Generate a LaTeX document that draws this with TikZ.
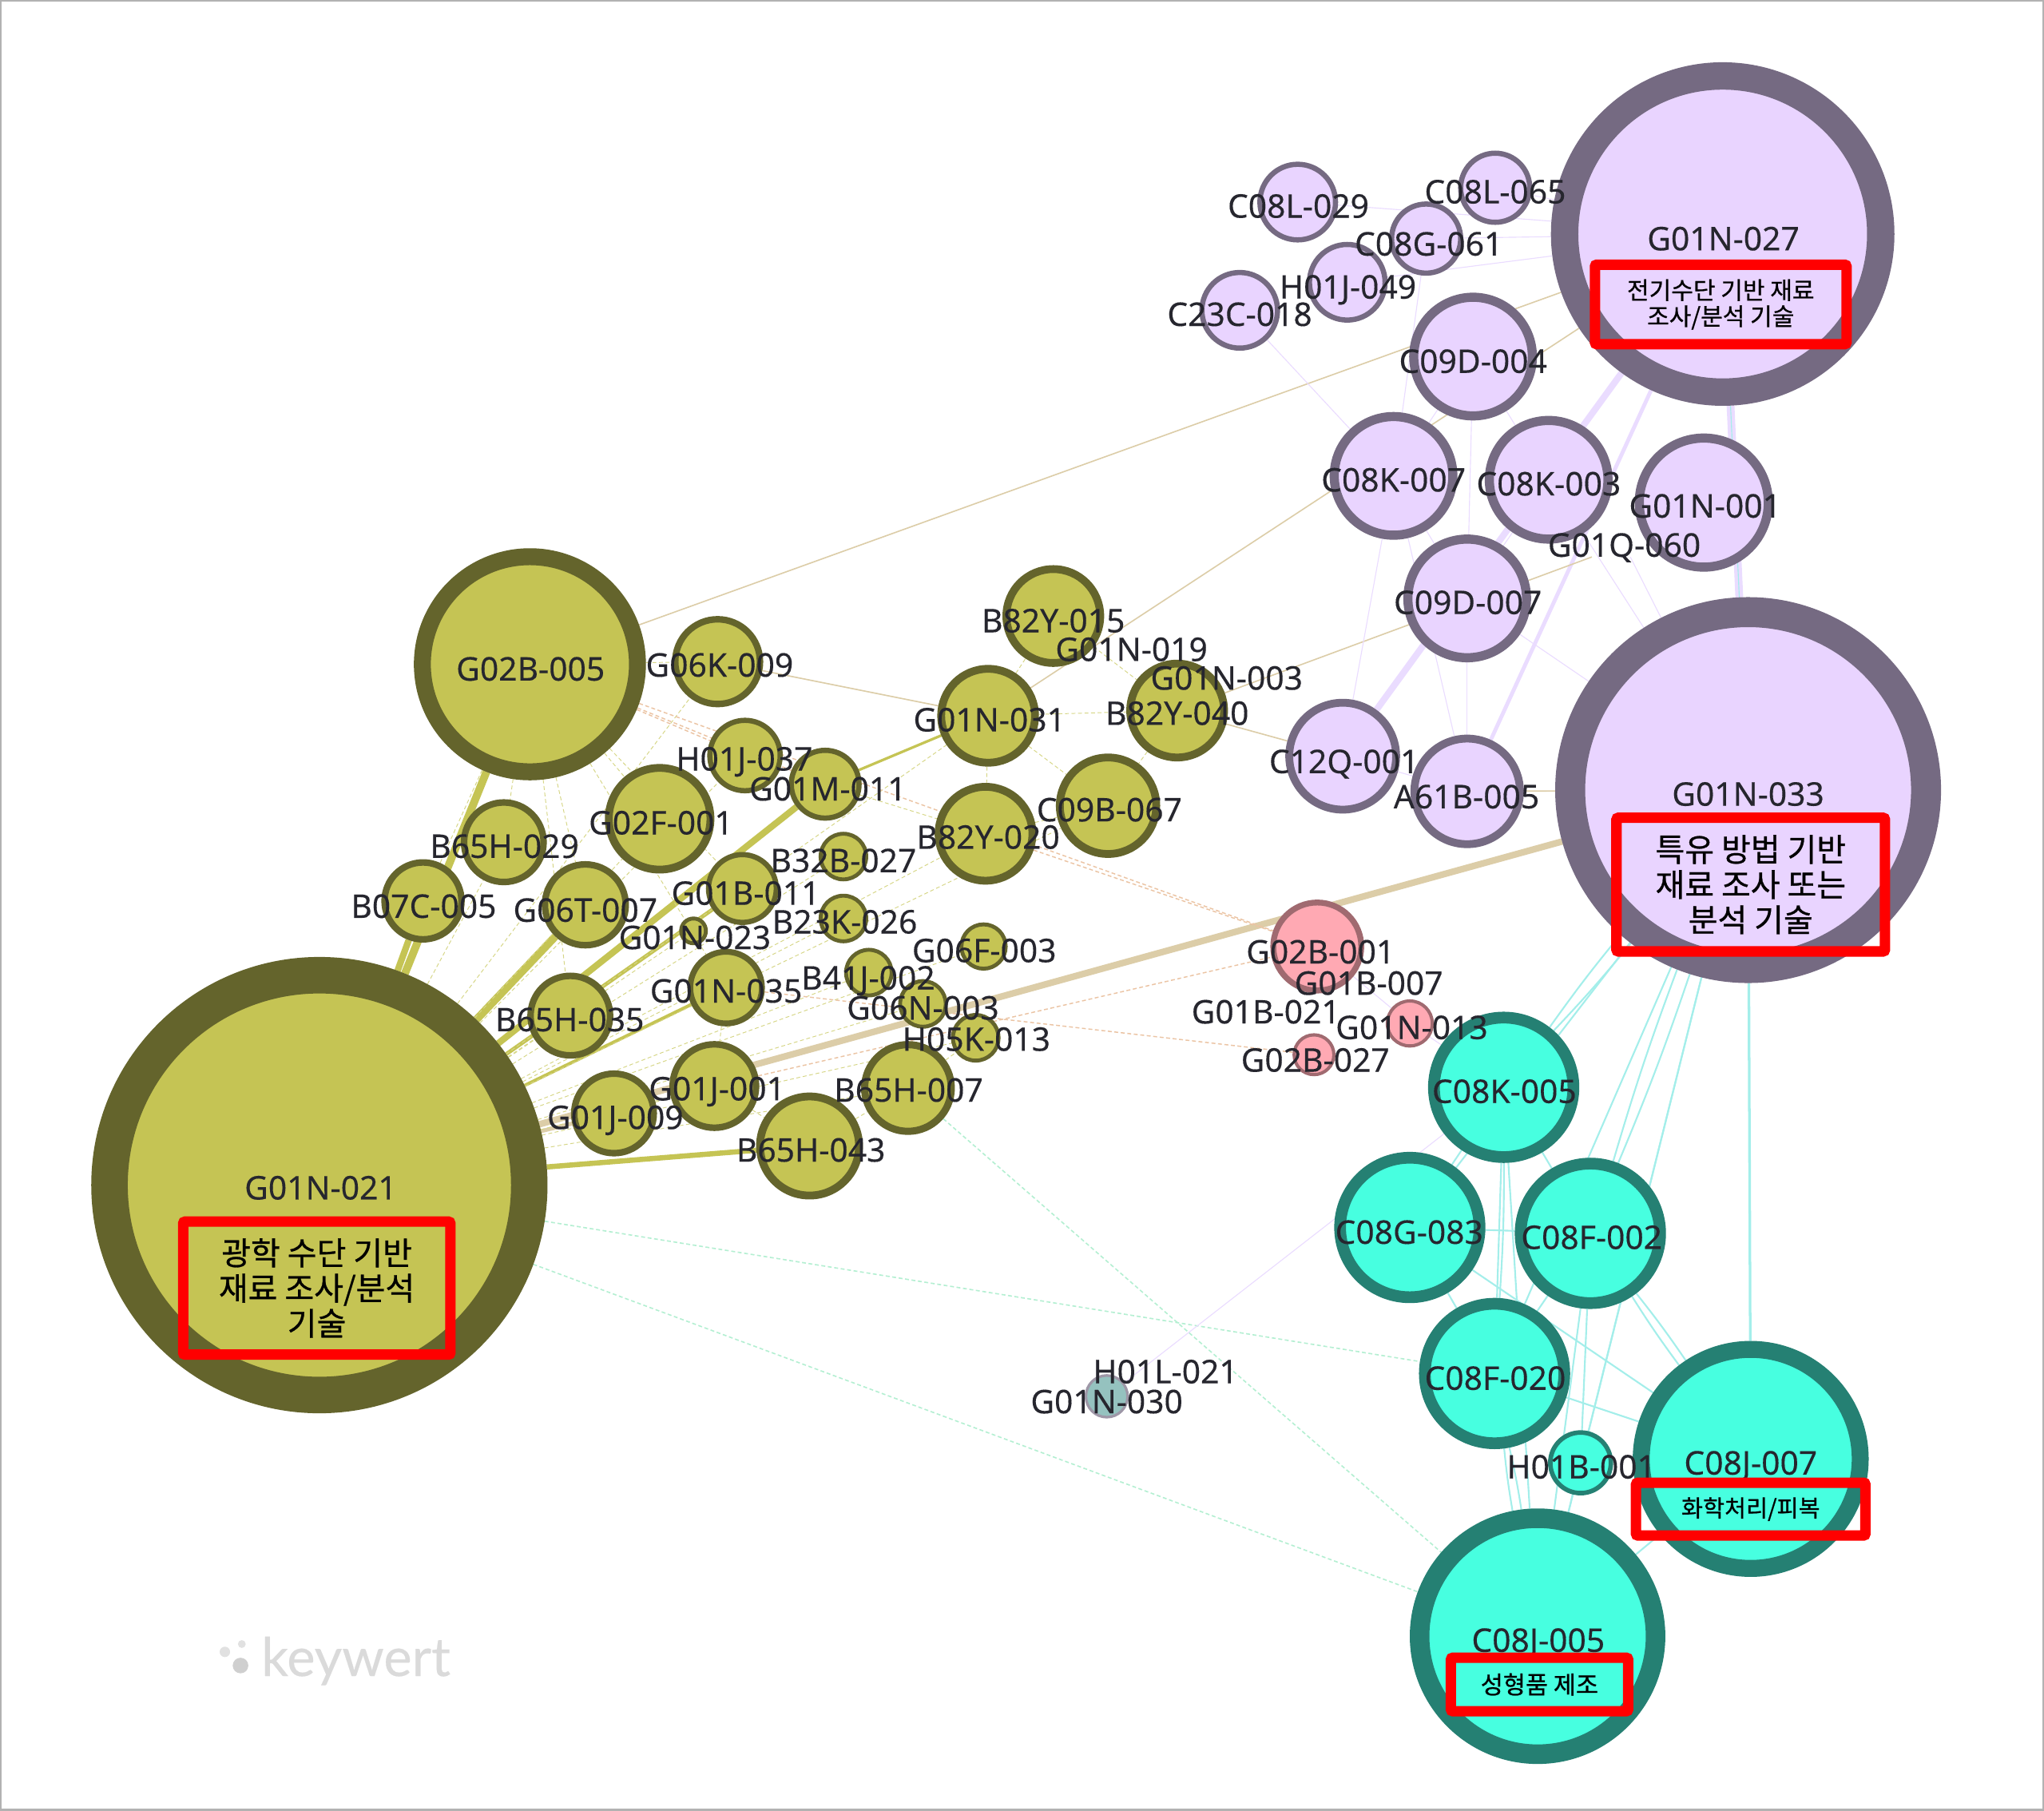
\documentclass[tikz,border=0pt]{standalone}
\usepackage{fontspec}
\setmainfont{Noto Sans}
\newfontfamily\labfont[FakeBold=0.25]{Noto Sans}
\newfontfamily\krfont[FakeBold=0.7]{Noto Sans CJK KR}
\newfontfamily\logofont[FakeBold=0.3]{Lato}
\pgfdeclarelayer{edges}
\pgfsetlayers{edges,main}
\definecolor{olivefill}{HTML}{C5C454}
\definecolor{oliveline}{HTML}{64642C}
\definecolor{purplefill}{HTML}{E9D4FF}
\definecolor{purpleline}{HTML}{756A82}
\definecolor{tealfill}{HTML}{47FFE0}
\definecolor{tealline}{HTML}{258073}
\definecolor{pinkfill}{HTML}{FFA9B3}
\definecolor{pinkline}{HTML}{A06A70}
\definecolor{tanedge}{HTML}{DCCDA8}
\definecolor{orangeedge}{HTML}{EBC4A4}
\definecolor{mintedge}{HTML}{B4EFD2}
\definecolor{cyanedge}{HTML}{A4EEEA}
\definecolor{lilacedge}{HTML}{EADCFF}
\definecolor{boxred}{HTML}{FF0000}
\definecolor{labelink}{HTML}{26262E}
\definecolor{logogray}{HTML}{DADADA}
\begin{document}
\begin{tikzpicture}[x=1pt,y=-1pt,
    olive/.style={circle, draw=oliveline, fill=olivefill, inner sep=0pt},
    purple/.style={circle, draw=purpleline, fill=purplefill, inner sep=0pt},
    teal/.style={circle, draw=tealline, fill=tealfill, inner sep=0pt},
    pink/.style={circle, draw=pinkline, fill=pinkfill, inner sep=0pt},
    slate/.style={circle, draw=purpleline!70, fill=cyanedge!60!gray, inner sep=0pt},
    lab/.style={inner sep=0pt, text=labelink, text height=18pt, text depth=0pt, font=\labfont\fontsize{25}{25}\selectfont},
    redbox/.style={draw=boxred, rounded corners=1.5pt, line width=8pt, inner sep=0pt, align=center, text=black},
    oliveedge/.style={draw=olivefill},
    olivethin/.style={draw=olivefill!70, line width=0.6pt, densely dashed},
    tanline/.style={draw=tanedge, line width=1pt},
    orangeline/.style={draw=orangeedge, line width=0.9pt, densely dashed},
    mintline/.style={draw=mintedge, line width=1pt, densely dashed},
    cyanline/.style={draw=cyanedge, line width=1.3pt},
    lilacthick/.style={draw=lilacedge},
    lilacthin/.style={draw=lilacedge, line width=0.7pt}
]
\useasboundingbox (0,0) rectangle (1568,1389);
\draw[gray!60, line width=1.5pt] (0.75,0.75) rectangle (1567.25,1388.25);

% olive
\node[olive, minimum size=322pt, line width=28pt] (g01n021) at (245,909) {};
\node[olive, minimum size=165pt, line width=13pt] (g02b005) at (406.5,509.5) {};
\node[olive, minimum size=65pt, line width=5pt] (g06k009) at (550.5,507.5) {};
\node[olive, minimum size=54pt, line width=4pt] (h01j037) at (571.5,579.5) {};
\node[olive, minimum size=52pt, line width=4pt] (g01m011) at (633,601.5) {};
\node[olive, minimum size=78pt, line width=6pt] (g02f001) at (506,628) {};
\node[olive, minimum size=61pt, line width=5pt] (b65h029) at (386.5,646) {};
\node[olive, minimum size=59pt, line width=5pt] (b07c005) at (324.5,691) {};
\node[olive, minimum size=62pt, line width=5pt] (g06t007) at (449,694) {};
\node[olive, minimum size=52pt, line width=4pt] (g01b011) at (569.5,681.5) {};
\node[olive, minimum size=19pt, line width=3pt] (g01n023) at (532,714) {};
\node[olive, minimum size=35pt, line width=3pt] (b32b027) at (647,657) {};
\node[olive, minimum size=35pt, line width=3pt] (b23k026) at (647,704.5) {};
\node[olive, minimum size=61pt, line width=5pt] (b65h035) at (437.5,779) {};
\node[olive, minimum size=55pt, line width=4.5pt] (g01n035) at (557,757.5) {};
\node[olive, minimum size=34pt, line width=3pt] (g06f003) at (754.5,726) {};
\node[olive, minimum size=35pt, line width=3pt] (b41j002) at (666.5,746) {};
\node[olive, minimum size=35pt, line width=3pt] (g06n003) at (708,770) {};
\node[olive, minimum size=35pt, line width=3pt] (h05k013) at (748.5,796) {};
\node[olive, minimum size=64pt, line width=5pt] (g01j001) at (548,833) {};
\node[olive, minimum size=61pt, line width=5pt] (g01j009) at (471,854) {};
\node[olive, minimum size=76pt, line width=6pt] (b65h043) at (621,879) {};
\node[olive, minimum size=66.5pt, line width=5.5pt] (b65h007) at (696.5,834.5) {};
\node[olive, minimum size=72pt, line width=6pt] (g01n031) at (758,549) {};
\node[olive, minimum size=72pt, line width=6pt] (b82y015) at (808,472.5) {};
\node[olive, minimum size=72pt, line width=6pt] (b82y020) at (756,639.5) {};
\node[olive, minimum size=74pt, line width=6pt] (c09b067) at (850,618) {};
\node[olive, minimum size=72pt, line width=6pt] (b82y040) at (903,545) {};

% purple
\node[purple, minimum size=242.5pt, line width=21pt] (g01n027) at (1321.5,179.5) {};
\node[purple, minimum size=58pt, line width=4pt] (c08l029) at (995.5,155) {};
\node[purple, minimum size=53pt, line width=4pt] (c08l065) at (1147,144) {};
\node[purple, minimum size=53pt, line width=4pt] (c08g061) at (1094,183) {};
\node[purple, minimum size=58pt, line width=4pt] (h01j049) at (1033.5,216.5) {};
\node[purple, minimum size=58pt, line width=4pt] (c23c018) at (951,238) {};
\node[purple, minimum size=91pt, line width=7pt] (c09d004) at (1130,273.5) {};
\node[purple, minimum size=91pt, line width=7pt] (c08k007) at (1069,365) {};
\node[purple, minimum size=91pt, line width=7pt] (c08k003) at (1188,368) {};
\node[purple, minimum size=99pt, line width=7pt] (g01n001) at (1307,385.5) {};
\node[purple, minimum size=91pt, line width=7pt] (c09d007) at (1125.5,459) {};
\node[purple, minimum size=82pt, line width=6pt] (c12q001) at (1030,580) {};
\node[purple, minimum size=81pt, line width=6pt] (a61b005) at (1125.5,607) {};
\node[purple, minimum size=273pt, line width=23pt] (g01n033) at (1341,606) {};

% pink
\node[pink, minimum size=67.5pt, line width=4.5pt] (g02b001) at (1010.5,726) {};
\node[pink, minimum size=34.5pt, line width=2.5pt] (g01n013) at (1081.5,785) {};
\node[pink, minimum size=30.5pt, line width=2.5pt] (g02b027) at (1008,809) {};

% teal
\node[teal, minimum size=107pt, line width=9pt] (c08k005) at (1153.5,834) {};
\node[teal, minimum size=107pt, line width=9pt] (c08g083) at (1081.5,941.5) {};
\node[teal, minimum size=107pt, line width=9pt] (c08f002) at (1220,946) {};
\node[teal, minimum size=107pt, line width=9pt] (c08f020) at (1146.5,1053.5) {};
\node[teal, minimum size=46.5pt, line width=3.5pt] (h01b001) at (1212.5,1122) {};
\node[teal, minimum size=168pt, line width=13pt] (c08j007) at (1343,1119) {};
\node[teal, minimum size=181pt, line width=15pt] (c08j005) at (1179.5,1255) {};
\node[slate, minimum size=32pt, line width=2pt] (g01n030) at (849,1071) {};

% labels
\node[lab] (g01n021t) at (246,911) {G01N-021};
\node[lab] (g02b005t) at (407,513) {G02B-005};
\node[lab] (g06k009t) at (552,510) {G06K-009};
\node[lab] (h01j037t) at (571,582) {H01J-037};
\node[lab] (g01m011t) at (635,605) {G01M-011};
\node[lab] (g02f001t) at (507,631) {G02F-001};
\node[lab] (b65h029t) at (387,649) {B65H-029};
\node[lab] (b07c005t) at (325,695) {B07C-005};
\node[lab] (g06t007t) at (449,698) {G06T-007};
\node[lab] (g01b011t) at (572,685) {G01B-011};
\node[lab] (g01n023t) at (533,719) {G01N-023};
\node[lab] (b32b027t) at (647,660) {B32B-027};
\node[lab] (b23k026t) at (648,707) {B23K-026};
\node[lab] (b65h035t) at (437,782) {B65H-035};
\node[lab] (g01n035t) at (557,760) {G01N-035};
\node[lab] (g06f003t) at (755,729) {G06F-003};
\node[lab] (b41j002t) at (666,750) {B41J-002};
\node[lab] (g06n003t) at (708,773) {G06N-003};
\node[lab] (h05k013t) at (749,797) {H05K-013};
\node[lab] (g01j001t) at (550,835) {G01J-001};
\node[lab] (g01j009t) at (472,857) {G01J-009};
\node[lab] (b65h043t) at (622,882) {B65H-043};
\node[lab] (b65h007t) at (697,836) {B65H-007};
\node[lab] (g01n031t) at (759,552) {G01N-031};
\node[lab] (b82y015t) at (808,476) {B82Y-015};
\node[lab] (g01n019t) at (868,498) {G01N-019};
\node[lab] (g01n003t) at (941,520) {G01N-003};
\node[lab] (b82y040t) at (903,547) {B82Y-040};
\node[lab] (b82y020t) at (758,642) {B82Y-020};
\node[lab] (c09b067t) at (851,621) {C09B-067};
\node[lab] (g01n027t) at (1322,183) {G01N-027};
\node[lab] (c08l029t) at (996,158) {C08L-029};
\node[lab] (c08l065t) at (1147,147) {C08L-065};
\node[lab] (c08g061t) at (1096,187) {C08G-061};
\node[lab] (h01j049t) at (1034,220) {H01J-049};
\node[lab] (c23c018t) at (951,241) {C23C-018};
\node[lab] (c09d004t) at (1130,277) {C09D-004};
\node[lab] (c08k007t) at (1069,368) {C08K-007};
\node[lab] (c08k003t) at (1188,371) {C08K-003};
\node[lab] (g01n001t) at (1308,388) {G01N-001};
\node[lab] (g01q060t) at (1246,418) {G01Q-060};
\node[lab] (c09d007t) at (1126,462) {C09D-007};
\node[lab] (c12q001t) at (1031,584) {C12Q-001};
\node[lab] (a61b005t) at (1125,611) {A61B-005};
\node[lab] (g01n033t) at (1341,609) {G01N-033};
\node[lab] (g02b001t) at (1013,730) {G02B-001};
\node[lab] (g01b007t) at (1050,754) {G01B-007};
\node[lab] (g01b021t) at (971,776) {G01B-021};
\node[lab] (g01n013t) at (1083,788) {G01N-013};
\node[lab] (g02b027t) at (1009,813) {G02B-027};
\node[lab] (c08k005t) at (1154,837) {C08K-005};
\node[lab] (c08g083t) at (1081,945) {C08G-083};
\node[lab] (c08f002t) at (1221,949) {C08F-002};
\node[lab] (c08f020t) at (1147,1057) {C08F-020};
\node[lab] (h01b001t) at (1213,1125) {H01B-001};
\node[lab] (c08j007t) at (1343,1122) {C08J-007};
\node[lab] (c08j005t) at (1180,1258) {C08J-005};
\node[lab] (h01l021t) at (894,1052) {H01L-021};
\node[lab] (g01n030t) at (849,1075) {G01N-030};

\begin{pgfonlayer}{edges}
% strong links
\draw[oliveedge, line width=6pt] (g01n021) -- (g02b005);
\draw[oliveedge, line width=5pt] (g01n021) -- (b07c005);
\draw[oliveedge, line width=6pt] (g01n021) -- (g06t007);
\draw[oliveedge, line width=5pt] (g01n021) -- (g01m011);
\draw[oliveedge, line width=3pt] (g01n021) -- (g01b011);
\draw[oliveedge, line width=2.5pt] (g01n021) -- (g01n035);
\draw[oliveedge, line width=4pt] (g01n021) -- (b65h043);
\draw[oliveedge, line width=2pt] (g01m011) -- (g01n031);
\draw[tanedge, line width=5pt] (g01n021) -- (g01n033);
\draw[tanedge, line width=3pt] (g01n021) -- (g01j009);
\draw[lilacthick, line width=6pt] (g01n027) -- (g01n033);
\draw[lilacthick, line width=5pt] (g01n027) -- (c12q001);
\draw[lilacthick, line width=3pt] (g01n027) -- (a61b005);

% thin olive links
\draw[olivethin] (g01n021) -- (g01n023);
\draw[olivethin] (g01n021) -- (b32b027);
\draw[olivethin] (g01n021) -- (b23k026);
\draw[olivethin] (g01n021) -- (g06f003);
\draw[olivethin] (g01n021) -- (b41j002);
\draw[olivethin] (g01n021) -- (g06n003);
\draw[olivethin] (g01n021) -- (h05k013);
\draw[olivethin] (g01n021) -- (g01j001);
\draw[olivethin] (g01n021) -- (b65h007);
\draw[olivethin] (g01n021) -- (b65h035);
\draw[olivethin] (g01n021) -- (b82y020);
\draw[olivethin] (g01n021) -- (c09b067);
\draw[olivethin] (g01n021) -- (g01n031);
\draw[olivethin] (g01n021) -- (g02f001);
\draw[olivethin] (g01n021) -- (b65h029);
\draw[olivethin] (g01n021) -- (h01j037);
\draw[olivethin] (g01n021) -- (g06k009);
\draw[olivethin] (g02b005) -- (g02f001);
\draw[olivethin] (g02b005) -- (g06t007);
\draw[olivethin] (g02b005) -- (b65h029);
\draw[olivethin] (g02b005) -- (g01b011);
\draw[olivethin] (g02b005) -- (b07c005);
\draw[olivethin] (g02b005) -- (b65h035);
\draw[olivethin] (g02b005) -- (g01n035);
\draw[olivethin] (g02b005) -- (g06k009);
\draw[olivethin] (g01n031) -- (b82y015);
\draw[olivethin] (g01n031) -- (b82y020);
\draw[olivethin] (g01n031) -- (b82y040);
\draw[olivethin] (g01n031) -- (c09b067);
\draw[olivethin] (b82y020) -- (c09b067);
\draw[olivethin] (b82y040) -- (c09b067);
\draw[olivethin] (b82y015) -- (b82y040);
\draw[olivethin] (g01j001) -- (b65h043);
\draw[olivethin] (g01j009) -- (g01j001);
\draw[olivethin] (b65h043) -- (b65h007);
\draw[olivethin] (b65h007) -- (h05k013);
\draw[olivethin] (g01m011) -- (b82y020);
\draw[olivethin] (g01n035) -- (g01j001);

% tan and orange links
\draw[tanline] (g02b005) -- (g01n027);
\draw[tanline] (g01n031) -- (g01n027);
\draw[tanline] (g06k009) -- (g01n031);
\draw[tanline] (b82y040) -- (c12q001);
\draw[tanline] (b82y040) -- (g01q060t);
\draw[tanline] (a61b005) -- (g01n033);
\draw[orangeline] (g02b005) -- (h01j037);
\draw[orangeline] (g02b005) -- (g01m011);
\draw[orangeline] (g02b005) -- (g02b001);
\draw[orangeline] (b82y020) -- (g02b001);
\draw[orangeline] (g01j001) -- (g02b001);
\draw[orangeline] (g01n035) -- (g02b027);
\draw[lilacthin] (g02b001) -- (g01n013);
\draw[lilacthin] (g01n013) -- (c08k005);

% mint links
\draw[mintline] (g01n021) -- (c08f020);
\draw[mintline] (g01n021) -- (c08j005);
\draw[mintline] (b65h007) -- (c08j005);
\draw[lilacthin] (g01n030) -- (c08k005);

% purple links
\draw[lilacthin] (c08l029) -- (g01n027);
\draw[lilacthin] (c08l065) -- (g01n027);
\draw[lilacthin] (c08g061) -- (g01n027);
\draw[lilacthin] (h01j049) -- (g01n027);
\draw[lilacthin] (c23c018) -- (c08k007);
\draw[lilacthin] (c08g061) -- (c08k007);
\draw[lilacthin] (c09d004) -- (c08k007);
\draw[lilacthin] (c09d004) -- (c08k003);
\draw[lilacthin] (c09d004) -- (c09d007);
\draw[lilacthin] (c08k007) -- (c09d007);
\draw[lilacthin] (c08k007) -- (a61b005);
\draw[lilacthin] (c08k003) -- (c09d007);
\draw[lilacthin] (c09d007) -- (a61b005);
\draw[lilacthin] (c09d007) -- (g01n033);
\draw[lilacthin] (c08k003) -- (g01n033);
\draw[lilacthin] (g01q060t) -- (g01n033);
\draw[lilacthin] (c12q001) -- (a61b005);
\draw[lilacthin] (c08k007) -- (c12q001);

% cyan links
\draw[cyanline, line width=2pt] (g01n033) -- (c08j007);
\draw[cyanline] (g01n033) to[bend left=2] (c08k005);
\draw[cyanline] (g01n033) to[bend right=2] (c08k005);
\draw[cyanline] (g01n033) to[bend left=2] (c08f002);
\draw[cyanline] (g01n033) to[bend right=2] (c08f002);
\draw[cyanline] (g01n033) -- (c08f020);
\draw[cyanline] (g01n033) -- (c08g083);
\draw[cyanline] (g01n033) -- (h01b001);
\draw[cyanline] (g01n033) -- (c08j005);
\draw[cyanline, line width=0.7pt] (g01n027) -- (g01n033);
\draw[cyanline] (c08k005) -- (c08g083);
\draw[cyanline] (c08k005) -- (c08f002);
\draw[cyanline] (c08k005) -- (c08f020);
\draw[cyanline] (c08k005) to[bend left=2] (c08f020);
\draw[cyanline] (c08k005) -- (c08j005);
\draw[cyanline] (c08g083) -- (c08f002);
\draw[cyanline] (c08g083) -- (c08f020);
\draw[cyanline] (c08g083) -- (c08j007);
\draw[cyanline] (c08f002) -- (c08f020);
\draw[cyanline] (c08f002) to[bend left=2] (c08j007);
\draw[cyanline] (c08f002) to[bend right=2] (c08j007);
\draw[cyanline] (c08f002) -- (c08j005);
\draw[cyanline] (c08f002) -- (h01b001);
\draw[cyanline] (c08f020) -- (c08j007);
\draw[cyanline] (c08f020) to[bend left=2] (c08j005);
\draw[cyanline] (c08f020) to[bend right=2] (c08j005);
\draw[cyanline] (h01b001) -- (c08j005);
\draw[cyanline] (c08j005) -- (c08j007);
\end{pgfonlayer}

% red boxes
\node[redbox, minimum width=205pt, minimum height=102pt, font=\krfont\fontsize{24.5}{27}\selectfont] (box1) at (243,988) {광학 수단 기반\\재료 조사/분석\\기술};
\node[redbox, minimum width=193pt, minimum height=61pt, font=\krfont\fontsize{18.4}{20}\selectfont] (box2) at (1320,233.5) {전기수단 기반 재료\\조사/분석 기술};
\node[redbox, minimum width=206pt, minimum height=102.5pt, font=\krfont\fontsize{24.5}{27}\selectfont] (box3) at (1343,678.5) {특유 방법 기반\\재료 조사 또는\\분석 기술};
\node[redbox, minimum width=176pt, minimum height=40.5pt, font=\krfont\fontsize{18}{20}\selectfont] (box4) at (1343,1157.5) {화학처리/피복};
\node[redbox, minimum width=136pt, minimum height=41pt, font=\krfont\fontsize{18.7}{20}\selectfont] (box5) at (1181,1292) {성형품 제조};

% logo
\node[circle, fill=logogray!80, inner sep=0pt, minimum size=8pt] (dot1) at (172.5,1267) {};
\node[circle, fill=logogray!80, inner sep=0pt, minimum size=6pt] (dot2) at (185.5,1261) {};
\node[circle, fill=logogray!130, inner sep=0pt, minimum size=12pt] (dot3) at (184.5,1277.5) {};
\node[inner sep=0pt, text=logogray, font=\logofont\fontsize{41}{41}\selectfont] (logo) at (273,1274) {keywert};
\end{tikzpicture}
\end{document}
